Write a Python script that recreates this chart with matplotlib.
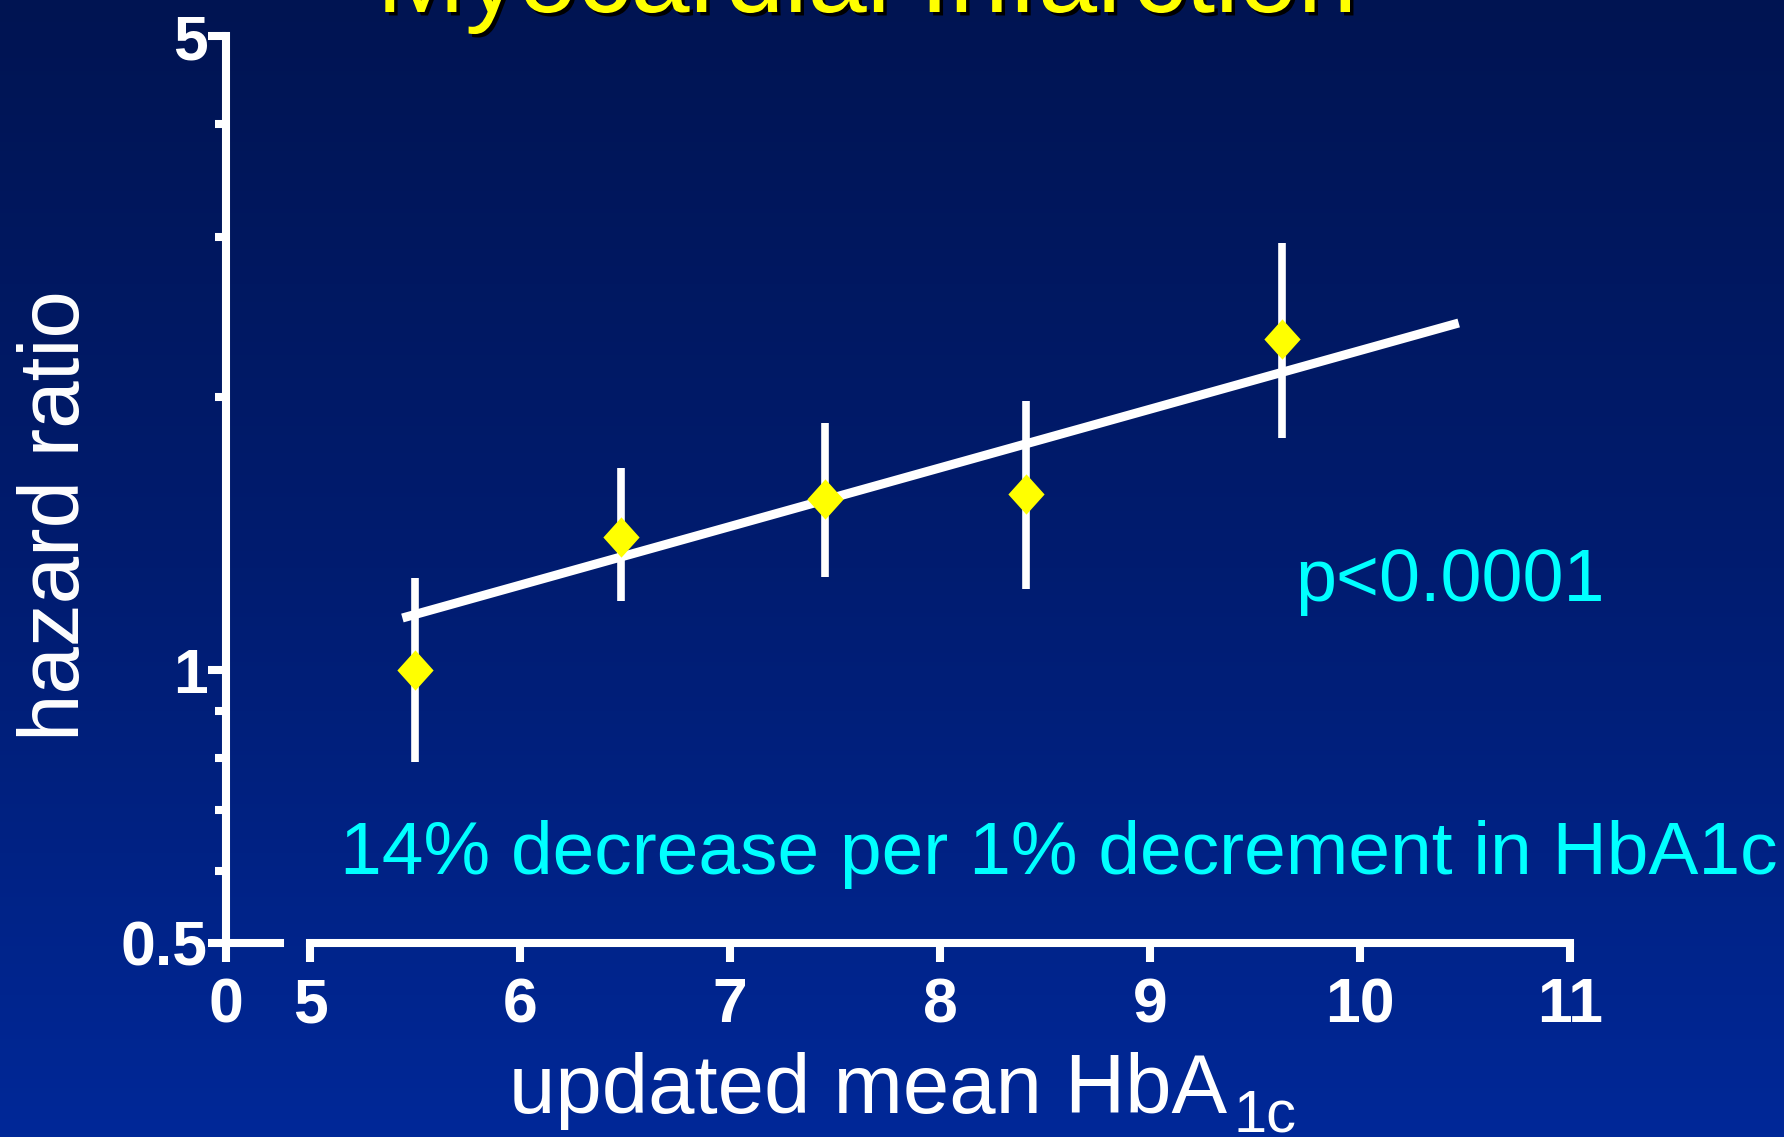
import matplotlib
matplotlib.use("Agg")
import matplotlib.pyplot as plt
import matplotlib.patheffects as pe
from matplotlib.colors import LinearSegmentedColormap
from matplotlib.ticker import FixedLocator, NullLocator
import numpy as np

plt.rcParams["font.family"] = ["Liberation Sans", "DejaVu Sans"]

# data
hba1c = [5.50, 6.48, 7.45, 8.41, 9.63]
hazard = [1.00, 1.403, 1.543, 1.564, 2.317]
ci_low = [0.792, 1.192, 1.267, 1.229, 1.80]
ci_high = [1.263, 1.669, 1.87, 1.98, 2.96]

fit_x = [5.44, 10.47]
fit_hr = [1.141, 2.413]

y_major = [0.5, 1, 5]
y_major_labels = ["0.5", "1", "5"]
y_minor = [0.6, 0.7, 0.8, 0.9, 2, 3, 4]
x_ticks = [5, 6, 7, 8, 9, 10, 11]

W, H = 1784, 1137
fig = plt.figure(figsize=(W / 100, H / 100), dpi=100)

# background gradient
bg = fig.add_axes([0, 0, 1, 1])
grad = np.linspace(0, 1, 256).reshape(-1, 1)
cmap = LinearSegmentedColormap.from_list("bg", ["#001452", "#001c70", "#002898"])
bg.imshow(grad, aspect="auto", cmap=cmap, extent=[0, 1, 0, 1], origin="upper")
bg.set_axis_off()

bottom = 1 - 943 / H
height = 907 / H

# main axes (x from 5 to 11)
ax = fig.add_axes([310 / W, bottom, 1260 / W, height])
# small axes holding the y axis and the "0" of the broken x axis
ax0 = fig.add_axes([226 / W, bottom, 54 / W, height])

for a in (ax, ax0):
    a.set_facecolor("none")
    a.set_yscale("log")
    a.set_ylim(0.5, 5)
    for s in ("top", "right"):
        a.spines[s].set_visible(False)
    a.spines["bottom"].set_color("white")
    a.spines["bottom"].set_linewidth(5.8)
    a.spines["bottom"].set_capstyle("projecting")

ax.spines["left"].set_visible(False)
ax.yaxis.set_major_locator(NullLocator())
ax.yaxis.set_minor_locator(NullLocator())
ax.set_xlim(5, 11)
ax.set_xticks(x_ticks)
ax.set_xticklabels([str(t) for t in x_ticks])
ax.tick_params(axis="x", colors="white", width=5.8, length=14, pad=10,
               labelsize=45)
for lab in ax.get_xticklabels():
    lab.set_fontweight("bold")

ax0.set_xlim(0, 1)
ax0.set_xticks([0])
ax0.set_xticklabels(["0"])
ax0.spines["left"].set_color("white")
ax0.spines["left"].set_linewidth(5.8)
ax0.spines["left"].set_capstyle("projecting")
ax0.yaxis.set_major_locator(FixedLocator(y_major))
ax0.yaxis.set_minor_locator(FixedLocator(y_minor))
ax0.set_yticklabels(y_major_labels)
ax0.yaxis.set_minor_formatter(plt.NullFormatter())
ax0.tick_params(axis="x", colors="white", width=5.8, length=14, pad=10,
                labelsize=45)
ax0.tick_params(axis="y", which="major", colors="white", width=5.8,
                length=13, pad=0, labelsize=45)
ax0.tick_params(axis="y", which="minor", colors="white", width=5.8, length=8)
for lab in ax0.get_xticklabels() + ax0.get_yticklabels():
    lab.set_fontweight("bold")

# trend line, confidence intervals, point estimates
ax.plot(fit_x, fit_hr, color="white", lw=6.5, solid_capstyle="butt", zorder=2)
hz = np.array(hazard)
yerr = [hz - np.array(ci_low), np.array(ci_high) - hz]
ax.errorbar(hba1c, hazard, yerr=yerr, fmt="none", ecolor="white",
            elinewidth=5.5, capsize=0, zorder=3)
diamond = [(-0.9, 0), (0, 1), (0.9, 0), (0, -1)]
ax.plot(hba1c, hazard, ls="none", marker=diamond, markersize=29,
        color="#ffff00", markeredgewidth=0, zorder=4)

# texts
fig.text(867 / W, 1 - 12 / H, "Myocardial Infarction", color="#ffff00",
         fontsize=76.5, ha="center", va="baseline",
         path_effects=[pe.withSimplePatchShadow(offset=(2.5, -2.5),
                                                shadow_rgbFace="black",
                                                alpha=1)])
fig.text(57 / W, 1 - 516 / H, "hazard ratio", color="white", fontsize=61.5,
         rotation=90, ha="center", va="center")

xl = fig.text(509 / W, 1 - 1113 / H, "updated mean HbA", color="white",
              fontsize=60, ha="left", va="baseline")
fig.canvas.draw()
xl_end = xl.get_window_extent().x1
fig.text(xl_end / W + 6 / W, 1 - 1131 / H, "1c", color="white", fontsize=43,
         ha="left", va="baseline")

fig.text(1450 / W, 1 - 601 / H, "p<0.0001", color="#00ffff", fontsize=53,
         ha="center", va="baseline")
fig.text(340 / W, 1 - 874 / H, "14% decrease per 1% decrement in HbA1c",
         color="#00ffff", fontsize=54, ha="left", va="baseline")

fig.savefig("out.png", dpi=100)
